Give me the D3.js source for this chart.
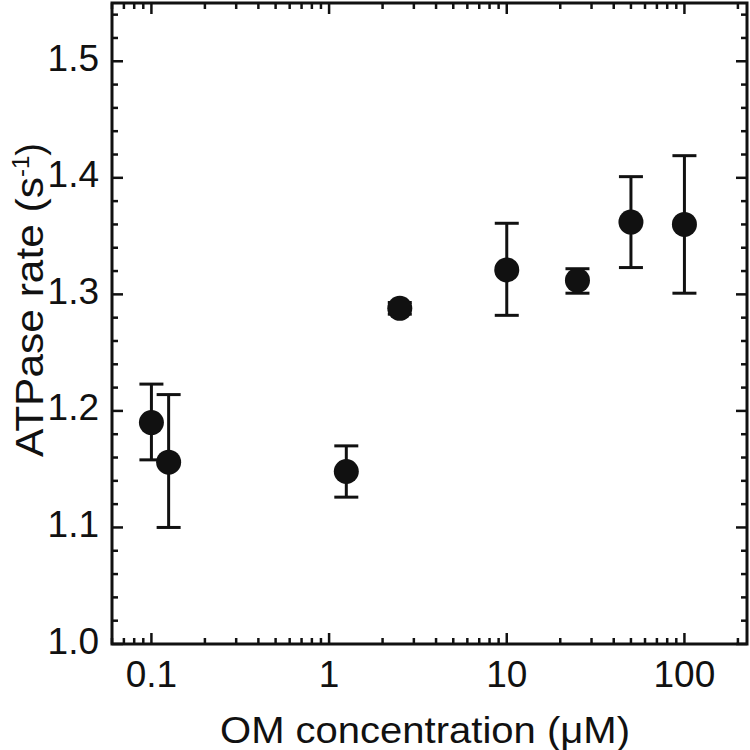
<!DOCTYPE html>
<html><head><meta charset="utf-8">
<script src="https://cdn.jsdelivr.net/npm/d3@7"></script>
<style>body{margin:0;background:#fff}svg{display:block}text{font-family:"Liberation Sans",Arial,sans-serif;fill:#111}</style>
</head><body><svg id="c" width="750" height="750"></svg>
<script>
const concentrations = [0.1, 0.125, 1.25, 2.5, 10, 25, 50, 100];
const rates =          [1.190, 1.156, 1.148, 1.288, 1.321, 1.312, 1.362, 1.360];
const errLow =         [1.158, 1.100, 1.126, 1.283, 1.282, 1.301, 1.323, 1.301];
const errHigh =        [1.223, 1.214, 1.170, 1.293, 1.361, 1.322, 1.401, 1.419];
const xTickValues = [0.1, 1, 10, 100];
const xTickLabels = ["0.1", "1", "10", "100"];
const yTickValues = [1.0, 1.1, 1.2, 1.3, 1.4, 1.5];

const svg = d3.select("#c");
const L = 112, R = 747, T = 3, B = 644;
const x = d3.scaleLog().domain([0.06, 225]).range([L, R]);
const y = d3.scaleLinear().domain([1.0, 1.55]).range([B, T]);

const minorX = [];
for (let e = -2; e <= 2; e++) for (let m = 1; m <= 9; m++) {
  const v = m * Math.pow(10, e);
  if (v >= 0.06 && v <= 225 && !xTickValues.some(t => Math.abs(t - v) < 1e-9)) minorX.push(v);
}
const minorY = d3.range(1.0, 1.5501, 0.02).filter(v => !yTickValues.some(t => Math.abs(t - v) < 1e-6));

const g = svg.append("g").attr("stroke", "#111").attr("stroke-width", 2.5);
function xt(vals, len) {
  vals.forEach(v => {
    g.append("line").attr("x1", x(v)).attr("x2", x(v)).attr("y1", B).attr("y2", B - len);
    g.append("line").attr("x1", x(v)).attr("x2", x(v)).attr("y1", T).attr("y2", T + len);
  });
}
function yt(vals, len) {
  vals.forEach(v => {
    g.append("line").attr("y1", y(v)).attr("y2", y(v)).attr("x1", L).attr("x2", L + len);
    g.append("line").attr("y1", y(v)).attr("y2", y(v)).attr("x1", R).attr("x2", R - len);
  });
}
xt(xTickValues, 11); xt(minorX, 6);
yt(yTickValues, 11); yt(minorY, 6);

svg.append("rect").attr("x", L).attr("y", T).attr("width", R - L).attr("height", B - T)
  .attr("fill", "none").attr("stroke", "#111").attr("stroke-width", 3);

svg.selectAll(".xl").data(xTickValues).enter().append("text")
  .attr("x", d => x(d)).attr("y", 687).attr("text-anchor", "middle")
  .attr("font-size", 37).text((d, i) => xTickLabels[i]);
svg.selectAll(".yl").data(yTickValues).enter().append("text")
  .attr("x", 99).attr("y", d => y(d) + 9.5).attr("text-anchor", "end")
  .attr("font-size", 37).text(d => d.toFixed(1));

svg.append("text").attr("x", 425).attr("y", 743).attr("text-anchor", "middle")
  .attr("font-size", 37).attr("textLength", 410).attr("lengthAdjust", "spacingAndGlyphs")
  .text("OM concentration (\u03bcM)");
const yl = svg.append("text").attr("transform", "translate(43,300) rotate(-90)")
  .attr("text-anchor", "middle").attr("font-size", 38);
yl.append("tspan").attr("textLength", 280).attr("lengthAdjust", "spacingAndGlyphs").text("ATPase rate (s");
yl.append("tspan").attr("font-size", 24).attr("dy", -14).text("-1");
yl.append("tspan").attr("dy", 14).text(")");

const eb = svg.append("g").attr("stroke", "#111").attr("stroke-width", 3);
concentrations.forEach((c, i) => {
  const cx = x(c);
  eb.append("line").attr("x1", cx).attr("x2", cx).attr("y1", y(errLow[i])).attr("y2", y(errHigh[i]));
  [errLow[i], errHigh[i]].forEach(v => {
    eb.append("line").attr("x1", cx - 12).attr("x2", cx + 12).attr("y1", y(v)).attr("y2", y(v));
  });
});
svg.selectAll(".pt").data(concentrations).enter().append("circle")
  .attr("cx", d => x(d)).attr("cy", (d, i) => y(rates[i])).attr("r", 12.5).attr("fill", "#111");
</script></body></html>
